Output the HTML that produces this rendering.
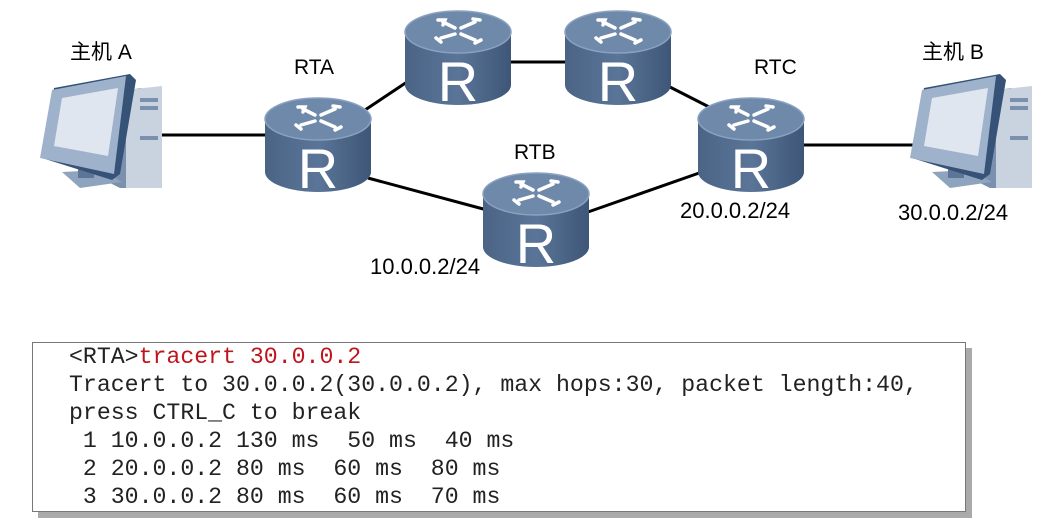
<!DOCTYPE html>
<html><head><meta charset="utf-8"><style>
body{margin:0;background:#fff;width:1051px;height:532px;overflow:hidden;position:relative;font-family:"Liberation Sans","Noto Sans CJK SC",sans-serif}
.l{position:absolute;font-size:21px;color:#000;white-space:nowrap}
.ip{font-size:22px}
.box{position:absolute;left:32px;top:342px;width:932px;height:168px;border:1px solid #777;background:#fff;box-shadow:6px 6px 0 #aaa}
.box pre{margin:0;position:absolute;left:36px;top:0px;font-family:"Liberation Mono",monospace;font-size:23.2px;line-height:28px;color:#222;letter-spacing:0}
.r{color:#c0141c}
</style></head><body>
<svg width="1051" height="532" style="position:absolute;left:0;top:0">
<defs>
<linearGradient id="rb" x1="0" x2="1"><stop offset="0" stop-color="#4b6486"/><stop offset=".5" stop-color="#5a7598"/><stop offset="1" stop-color="#3e5677"/></linearGradient>
<g id="rt">
<path d="M0 22 V75 A53 20 0 0 0 106 75 V22 Z" fill="url(#rb)"/>
<ellipse cx="53" cy="22" rx="53" ry="21" fill="#6f89ab" stroke="#8aa2c0" stroke-width="1.5"/>
<g stroke="#fff" stroke-width="3.5" fill="none" stroke-linecap="round">
<path d="M38 12 L50 18 M36 28 L50 24 M70 12 L56 18 M70 30 L56 24"/>
<path d="M33 10 L40 10 L38 15 M31 28 L36 32 M75 10 L68 9 M76 30 L70 33"/>
</g>
<text x="53" y="91" text-anchor="middle" font-family="Liberation Sans" font-size="56" fill="#fff">R</text>
</g>
<g id="pc">
<polygon points="60,26 100,18 122,22 122,118 80,118 60,108" fill="#7b90ad"/>
<polygon points="86,20 122,16 122,118 86,118" fill="#c9d3e0"/>
<rect x="100" y="28" width="18" height="4" fill="#7b90ad"/><rect x="100" y="36" width="18" height="4" fill="#7b90ad"/><rect x="100" y="66" width="18" height="4" fill="#7b90ad"/>
<polygon points="22,102 62,100 82,112 40,118" fill="#8ea3be"/>
<rect x="38" y="88" width="16" height="20" fill="#5f7597"/>
<polygon points="14,18 90,4 96,10 80,104 72,110 2,88" fill="#365277"/>
<polygon points="12,20 86,6 74,104 0,88" fill="#9fb2cb"/>
<polygon points="22,28 78,18 68,86 14,76" fill="#dfe6ef"/>
</g>
</defs>
<g stroke="#000" stroke-width="3">
<line x1="160" y1="135" x2="270" y2="135"/>
<line x1="365" y1="110" x2="410" y2="80"/>
<line x1="508" y1="62" x2="568" y2="62"/>
<line x1="666" y1="85" x2="715" y2="110"/>
<line x1="368" y1="178" x2="487" y2="210"/>
<line x1="588" y1="212" x2="702" y2="172"/>
<line x1="803" y1="145" x2="915" y2="145"/>
</g>
<use href="#pc" x="40" y="70"/>
<use href="#pc" x="910" y="70"/>
<use href="#rt" x="265" y="97"/>
<use href="#rt" x="405" y="10"/>
<use href="#rt" x="565" y="10"/>
<use href="#rt" x="483" y="172"/>
<use href="#rt" x="698" y="97"/>
</svg>
<div class="l" style="left:70px;top:36px">主机 A</div>
<div class="l" style="left:294px;top:56px">RTA</div>
<div class="l" style="left:514px;top:141px">RTB</div>
<div class="l" style="left:754px;top:56px">RTC</div>
<div class="l" style="left:922px;top:36px">主机 B</div>
<div class="l ip" style="left:370px;top:254px">10.0.0.2/24</div>
<div class="l ip" style="left:680px;top:198px">20.0.0.2/24</div>
<div class="l ip" style="left:898px;top:200px">30.0.0.2/24</div>
<div class="box"><pre>&lt;RTA&gt;<span class="r">tracert 30.0.0.2</span>
Tracert to 30.0.0.2(30.0.0.2), max hops:30, packet length:40,
press CTRL_C to break
 1 10.0.0.2 130 ms  50 ms  40 ms
 2 20.0.0.2 80 ms  60 ms  80 ms
 3 30.0.0.2 80 ms  60 ms  70 ms</pre></div>
</body></html>
